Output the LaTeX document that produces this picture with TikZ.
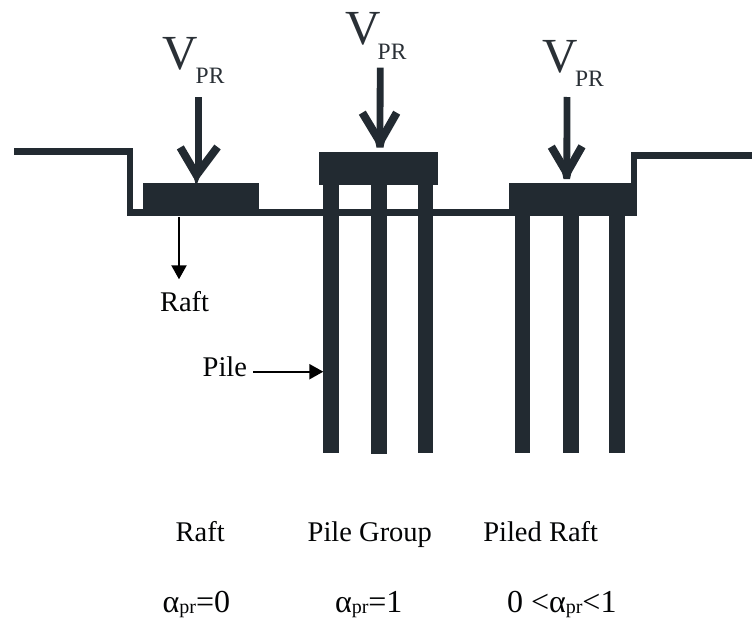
\documentclass[tikz,border=0pt]{standalone}
\usepackage{fontspec}
\setmainfont{Liberation Serif}
\definecolor{ink}{HTML}{222A31}
\definecolor{txt}{HTML}{2A3036}
\newcommand{\fs}[1]{\fontsize{#1}{#1}\selectfont}
\newcommand{\apr}{α\raisebox{-1pt}{\fs{20}pr}}
\usetikzlibrary{arrows.meta}
\tikzset{
 x=1pt,y=-1pt,
 lbl/.style={inner sep=0pt,outer sep=0pt,anchor=base west,text=black!90!ink},
 vv/.style={lbl,text=txt,font=\fs{49}},
 pr/.style={lbl,text=txt,font=\fs{23.5}},
 cap28/.style={lbl,font=\fs{28.5}},
 alpha/.style={lbl,font=\fs{32}},
 solid ink/.style={fill=ink,draw=none},
 ground/.style={draw=ink,line width=6.3pt,miter limit=10},
 shaft/.style={draw=ink,line width=6.8pt},
 wing/.style={draw=ink,line width=8pt,line join=miter},
 thinarrow/.style={draw=black,line width=2.2pt,-{Triangle[length=14pt,width=15pt]}}
}
\begin{document}
\begin{tikzpicture}
\useasboundingbox (0,0) rectangle (752,618);
% ground
\draw[ground] (14,151.5) -- (130.3,151.5) -- (130.3,212.5) -- (634.3,212.5) -- (634.3,155.5) -- (752,155.5);
% raft 1
\fill[solid ink] (142.7,183.3) rectangle (259,213);
% pile group
\fill[solid ink] (319.3,152.3) rectangle (438,185.3);
\fill[solid ink] (323.3,185) rectangle (339.3,452.7);
\fill[solid ink] (370.7,185) rectangle (386.7,454);
\fill[solid ink] (417.7,185) rectangle (433.3,452.7);
% piled raft
\fill[solid ink] (509.3,183.3) rectangle (631,215);
\fill[solid ink] (514.7,214) rectangle (530.3,453);
\fill[solid ink] (562.7,214) rectangle (578.7,453);
\fill[solid ink] (609.3,214) rectangle (625,453);
% load arrows
\coordinate (a1t) at (198.3,97);
\coordinate (a1b) at (196.5,175);
\coordinate (a2t) at (380.2,67.7);
\coordinate (a2b) at (380,142);
\coordinate (a3t) at (567,97);
\coordinate (a3b) at (566.8,173);
\draw[shaft] (a1t) -- (198.3,175);
\draw[wing] (180.3,147.4) -- (a1b) -- (217.5,147);
\fill[solid ink] (193.5,176) -- (195.5,184) -- (197,184) -- (200,176) -- cycle;
\draw[shaft] (a2t) -- (a2b);
\draw[wing,line join=bevel] (362.3,112.7) -- (a2b) -- (396.7,112.7);
\fill[solid ink] (375,140) -- (376.5,147.7) -- (383.5,147.7) -- (385,140) -- cycle;
\draw[shaft] (a3t) -- (a3b);
\draw[wing,line join=bevel] (551.3,146.7) -- (a3b) -- (582,146.3);
\fill[solid ink] (562,172) -- (563.5,179) -- (570,179) -- (571.5,172) -- cycle;
% V labels
\node[vv] (v1) at (162.3,70) {V};
\node[pr] (p1) at (195.7,83.3) {PR};
\node[vv] (v2) at (345.7,45) {V};
\node[pr] (p2) at (377.7,59.3) {PR};
\node[vv] (v3) at (542.3,72.7) {V};
\node[pr] (p3) at (575,86) {PR};
% side labels
\node[cap28] (rl) at (160,311.7) {Raft};
\node[cap28] (pl) at (202.7,376.7) {Pile};
\coordinate (rs) at (179,217);
\coordinate (re) at (179,279.3);
\coordinate (pe) at (323.3,371.7);
\coordinate (ps) at (253.3,371.7);
\draw[thinarrow] (rs) -- (re);
\draw[thinarrow] (ps) -- (pe);
% bottom labels
\node[cap28] (c1) at (175.7,541.7) {Raft};
\node[cap28] (c2) at (307.7,541.7) {Pile Group};
\node[cap28] (c3) at (483.3,541.7) {Piled Raft};
\node[alpha] (a1) at (162.7,612.3) {\apr=0};
\node[alpha] (a2) at (335,612.3) {\apr=1};
\node[alpha] (a3) at (507,612.3) {0 <\apr<1};
\end{tikzpicture}
\end{document}
